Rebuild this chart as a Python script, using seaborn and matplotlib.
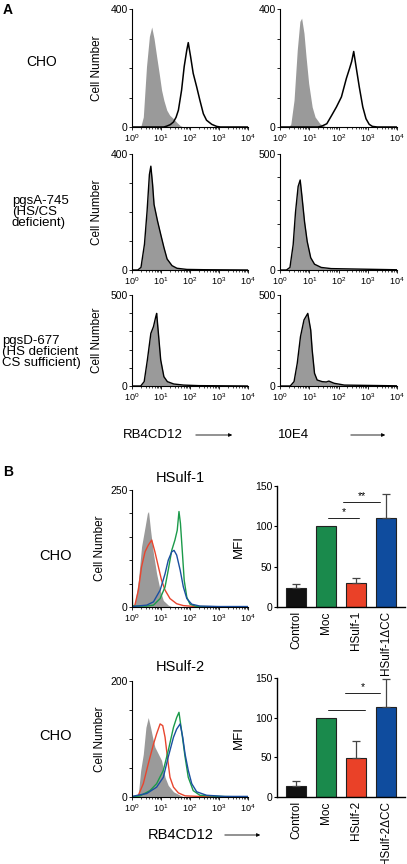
import numpy as np
import pandas as pd
import matplotlib
matplotlib.use("Agg")
import matplotlib.pyplot as plt
import seaborn as sns
from matplotlib.ticker import FixedLocator, FixedFormatter, LogLocator, NullFormatter

sns.set_style("ticks")
plt.rcParams['font.family'] = ['Liberation Sans', 'DejaVu Sans']
for k in ['text.color', 'axes.labelcolor', 'xtick.color', 'ytick.color', 'axes.edgecolor']:
    plt.rcParams[k] = 'black'

# Dados dos histogramas: log10 da fluorescencia e numero de celulas
# Painel A, CHO
cho_rb_ctrl_lx = [0.3, 0.39, 0.5, 0.6, 0.68, 0.76, 0.85, 0.94, 1.02, 1.1, 1.2, 1.3, 1.43, 1.55, 1.66, 1.77]
cho_rb_ctrl_n = [0, 34, 205, 307, 339, 300, 239, 180, 125, 90, 57, 40, 28, 15, 5, 0]
cho_rb_lx = [0, 1.1, 1.2, 1.32, 1.43, 1.52, 1.6, 1.71, 1.8, 1.89, 1.94, 1.98, 2.02, 2.11, 2.23, 2.34,
             2.46, 2.57, 2.75, 2.92, 3.05, 4]
cho_rb_n = [0, 0, 3, 8, 17, 33, 57, 125, 205, 261, 286, 262, 239, 182, 136, 91, 45, 23, 9, 2, 0, 0]

cho_e4_ctrl_lx = [0.3, 0.37, 0.48, 0.59, 0.68, 0.74, 0.82, 0.89, 0.98, 1.1, 1.2, 1.37, 1.54, 1.65]
cho_e4_ctrl_n = [0, 10, 91, 261, 358, 369, 318, 239, 148, 68, 34, 11, 2, 0]
cho_e4_lx = [0, 1.3, 1.43, 1.6, 1.77, 1.93, 2.1, 2.27, 2.38, 2.45, 2.52, 2.6, 2.71, 2.83, 2.94, 3.05,
             3.16, 3.33, 4]
cho_e4_n = [0, 0, 3, 11, 40, 68, 102, 165, 199, 222, 256, 205, 136, 68, 28, 9, 2, 0, 0]

# pgsA-745
pgsa_rb_lx = [0, 0.2, 0.31, 0.43, 0.52, 0.6, 0.65, 0.71, 0.76, 0.88, 0.99, 1.1, 1.21, 1.38, 1.55, 1.89, 2.5, 4]
pgsa_rb_n = [0, 0, 9, 89, 203, 329, 358, 295, 226, 169, 123, 78, 38, 15, 6, 2, 1, 0]
pgsa_e4_lx = [0, 0.22, 0.34, 0.45, 0.53, 0.62, 0.69, 0.75, 0.84, 0.93, 1.05, 1.18, 1.41, 1.75, 2.65, 4]
pgsa_e4_n = [0, 0, 11, 109, 249, 360, 388, 318, 207, 123, 53, 25, 11, 6, 4, 1]

# pgsD-677
pgsd_rb_lx = [0, 0.3, 0.42, 0.53, 0.65, 0.74, 0.82, 0.85, 0.9, 0.99, 1.1, 1.22, 1.44, 1.78, 2.3, 4]
pgsd_rb_n = [0, 0, 24, 143, 289, 326, 381, 399, 308, 143, 51, 24, 11, 5, 2, 0]
pgsd_e4_lx = [0, 0.35, 0.48, 0.59, 0.7, 0.82, 0.95, 1.05, 1.1, 1.18, 1.27, 1.44, 1.58, 1.67, 1.85, 2.2, 4]
pgsd_e4_n = [0, 0, 24, 125, 271, 363, 399, 308, 198, 70, 33, 24, 22, 27, 15, 5, 1]

# Painel B, HSulf-1
hs1_ctrl_lx = [0.0, 0.1, 0.22, 0.33, 0.45, 0.53, 0.57, 0.64, 0.74, 0.85, 0.97, 1.08, 1.25, 1.4]
hs1_ctrl_n = [0, 7, 57, 129, 171, 200, 204, 164, 114, 71, 36, 14, 4, 0]
hs1_red_lx = [0, 0.1, 0.22, 0.33, 0.45, 0.56, 0.68, 0.79, 0.91, 1.02, 1.14, 1.31, 1.54, 1.77, 2.2, 4]
hs1_red_n = [0, 4, 36, 86, 118, 132, 143, 118, 86, 57, 36, 18, 7, 3, 1, 0]
hs1_green_lx = [0, 0, 0.02, 0.5, 0.74, 0.97, 1.14, 1.25, 1.37, 1.48, 1.56, 1.62, 1.67, 1.74, 1.8, 1.89,
                2.0, 2.23, 4]
hs1_green_n = [0, 57, 2, 2, 4, 18, 43, 79, 121, 143, 164, 204, 179, 114, 57, 21, 6, 1, 0]
hs1_blue_lx = [0, 0.51, 0.74, 0.97, 1.14, 1.25, 1.37, 1.45, 1.54, 1.66, 1.77, 1.89, 2.06, 2.34, 3.0, 4]
hs1_blue_n = [1, 4, 11, 36, 71, 100, 118, 121, 111, 79, 43, 18, 6, 2, 1, 1]

# HSulf-2
hs2_ctrl_lx = [0.1, 0.22, 0.3, 0.39, 0.48, 0.56, 0.64, 0.71, 0.79, 0.91, 1.02, 1.14, 1.25, 1.43, 1.66, 1.8]
hs2_ctrl_n = [0, 6, 46, 74, 120, 137, 120, 103, 86, 74, 63, 34, 20, 9, 3, 0]
hs2_red_lx = [0, 0.22, 0.39, 0.56, 0.74, 0.85, 0.97, 1.06, 1.14, 1.22, 1.31, 1.43, 1.6, 1.83, 2.3, 4]
hs2_red_n = [0, 3, 23, 57, 91, 109, 126, 123, 103, 69, 34, 17, 7, 2, 1, 0]
hs2_green_lx = [0, 0.28, 0.62, 0.85, 1.08, 1.25, 1.43, 1.54, 1.62, 1.71, 1.83, 1.94, 2.11, 2.34, 3.0, 4]
hs2_green_n = [0, 2, 11, 23, 46, 80, 120, 137, 146, 114, 69, 34, 11, 3, 1, 0]
hs2_blue_lx = [0, 0.51, 0.85, 1.08, 1.25, 1.43, 1.54, 1.66, 1.75, 1.83, 1.94, 2.06, 2.23, 2.57, 3.2, 4]
hs2_blue_n = [1, 6, 17, 34, 69, 103, 117, 126, 103, 74, 46, 23, 9, 3, 1, 1]

# Barras (MFI)
bar_cats_1 = ['Control', 'Moc', 'HSulf-1', 'HSulf-1ΔCC']
mfi_1 = [23, 100, 30, 110]
mfi_1_top = [29, 100, 36, 140]
sig_1_span = [(1.07, 2.1), (1.57, 2.8)]
sig_1_y = [110, 130]
sig_1_txt = ['*', '**']

bar_cats_2 = ['Control', 'Moc', 'HSulf-2', 'HSulf-2ΔCC']
mfi_2 = [14, 100, 49, 113]
mfi_2_top = [20, 100, 71, 149]
sig_2_span = [(1.07, 2.3), (1.63, 2.8)]
sig_2_y = [110, 131]
sig_2_txt = ['', '*']

GRAY = '#9a9a9a'
GREEN = '#1b9a4a'
RED = '#e8452e'
BLUE = '#1a4fa0'
bar_colors = ['#111111', '#1a8a4c', '#ea4128', '#0f4c9e']

W, H = 407, 864
fig = plt.figure(figsize=(W / 100, H / 100), dpi=100)


def px_axes(x0, y0, x1, y1):
    return fig.add_axes([x0 / W, 1 - y1 / H, (x1 - x0) / W, (y1 - y0) / H])


def estilo_hist(ax, ymax, step, ylabel=True):
    ax.set_xscale('log')
    ax.set_xlim(1, 1e4)
    ax.set_ylim(0, ymax)
    ax.xaxis.set_major_locator(LogLocator(base=10, numticks=10))
    ax.xaxis.set_minor_locator(LogLocator(base=10, subs=np.arange(2, 10), numticks=50))
    ax.xaxis.set_minor_formatter(NullFormatter())
    ticks = list(range(0, ymax + 1, step))
    ax.yaxis.set_major_locator(FixedLocator(ticks))
    ax.yaxis.set_major_formatter(FixedFormatter(['0'] + [''] * (len(ticks) - 2) + [str(ymax)]))
    ax.tick_params(axis='x', which='major', labelsize=6.5, length=2.5, width=0.6, pad=1)
    ax.tick_params(axis='x', which='minor', length=1.3, width=0.5)
    ax.tick_params(axis='y', labelsize=7.5, length=2, width=0.6, pad=1)
    for s in ['top', 'right']:
        ax.spines[s].set_visible(False)
    for s in ['left', 'bottom']:
        ax.spines[s].set_linewidth(0.8)
    ax.set_xlabel('')
    if ylabel:
        ax.set_ylabel('Cell Number', fontsize=8.5)
        ax.yaxis.set_label_coords(-0.25, 0.5)
    else:
        ax.set_ylabel('')


def linha(ax, lx, n, color, lw=1.0):
    df = pd.DataFrame({'x': 10 ** np.array(lx, dtype=float), 'n': n})
    sns.lineplot(data=df, x='x', y='n', ax=ax, color=color, lw=lw,
                 estimator=None, sort=False, legend=False)


def preenche(ax, lx, n):
    ax.fill_between(10 ** np.array(lx, dtype=float), n, 0, color=GRAY, lw=0)


# --- Painel A ---
ax = px_axes(132, 9, 248, 127)
preenche(ax, cho_rb_ctrl_lx, cho_rb_ctrl_n)
linha(ax, cho_rb_lx, cho_rb_n, 'black', 1.1)
estilo_hist(ax, 400, 100)

ax = px_axes(280, 9, 397, 127)
preenche(ax, cho_e4_ctrl_lx, cho_e4_ctrl_n)
linha(ax, cho_e4_lx, cho_e4_n, 'black', 1.1)
estilo_hist(ax, 400, 100, ylabel=False)

ax = px_axes(132, 154, 248, 270)
preenche(ax, pgsa_rb_lx, pgsa_rb_n)
linha(ax, pgsa_rb_lx, pgsa_rb_n, 'black', 1.0)
estilo_hist(ax, 400, 100)

ax = px_axes(280, 154, 397, 270)
preenche(ax, pgsa_e4_lx, pgsa_e4_n)
linha(ax, pgsa_e4_lx, pgsa_e4_n, 'black', 1.0)
estilo_hist(ax, 500, 100, ylabel=False)

ax = px_axes(132, 295, 248, 386)
preenche(ax, pgsd_rb_lx, pgsd_rb_n)
linha(ax, pgsd_rb_lx, pgsd_rb_n, 'black', 1.0)
estilo_hist(ax, 500, 100)

ax = px_axes(280, 295, 397, 386)
preenche(ax, pgsd_e4_lx, pgsd_e4_n)
linha(ax, pgsd_e4_lx, pgsd_e4_n, 'black', 1.0)
estilo_hist(ax, 500, 100, ylabel=False)

# --- Painel B: histogramas ---
ax = px_axes(132, 490, 248, 607)
preenche(ax, hs1_ctrl_lx, hs1_ctrl_n)
linha(ax, hs1_red_lx, hs1_red_n, RED)
linha(ax, hs1_green_lx, hs1_green_n, GREEN)
linha(ax, hs1_blue_lx, hs1_blue_n, BLUE)
estilo_hist(ax, 250, 50)
ax.yaxis.set_label_coords(-0.22, 0.5)

ax = px_axes(132, 681, 248, 797)
preenche(ax, hs2_ctrl_lx, hs2_ctrl_n)
linha(ax, hs2_red_lx, hs2_red_n, RED)
linha(ax, hs2_green_lx, hs2_green_n, GREEN)
linha(ax, hs2_blue_lx, hs2_blue_n, BLUE)
estilo_hist(ax, 200, 50)
ax.yaxis.set_label_coords(-0.22, 0.5)


# --- Painel B: barras ---
def barras(ax, cats, vals, tops, spans, ys, txts):
    df = pd.DataFrame({'cat': cats, 'mfi': vals})
    sns.barplot(data=df, x='cat', y='mfi', hue='cat', palette=bar_colors, legend=False,
                saturation=1, edgecolor='#222222', linewidth=0.8, width=0.67, ax=ax)
    idx = [i for i in range(len(vals)) if tops[i] > vals[i]]
    ax.errorbar(idx, [vals[i] for i in idx],
                yerr=[[0] * len(idx), [tops[i] - vals[i] for i in idx]],
                fmt='none', ecolor='#444444', elinewidth=0.9, capsize=2.8, capthick=0.9)
    for (a, b), yv, t in zip(spans, ys, txts):
        ax.plot([a, b], [yv, yv], color='#222222', lw=0.7)
        if t:
            ax.text((a + b) / 2, yv + 1, t, ha='center', va='bottom', fontsize=7.5)
    ax.set_xlim(-0.64, 3.63)
    ax.set_ylim(0, 150)
    ax.set_yticks([0, 50, 100, 150])
    ax.set_xlabel('')
    ax.set_ylabel('MFI', fontsize=9.5)
    ax.yaxis.set_label_coords(-0.25, 0.5)
    ax.tick_params(axis='x', length=0, labelsize=8.5, rotation=90, pad=3)
    ax.tick_params(axis='y', length=2.5, width=0.8, labelsize=7.5, pad=1)
    for s in ['top', 'right']:
        ax.spines[s].set_visible(False)
    for s in ['left', 'bottom']:
        ax.spines[s].set_linewidth(1.0)


ax = px_axes(277, 486, 405, 607)
barras(ax, bar_cats_1, mfi_1, mfi_1_top, sig_1_span, sig_1_y, sig_1_txt)
ax = px_axes(277, 678, 405, 797)
barras(ax, bar_cats_2, mfi_2, mfi_2_top, sig_2_span, sig_2_y, sig_2_txt)


# --- Textos ---
def ftxt(x, y, s, **kw):
    fig.text(x / W, 1 - y / H, s, **kw)


def seta(x0, x1, y):
    fig.add_artist(matplotlib.patches.FancyArrowPatch(
        (x0 / W, 1 - y / H), (x1 / W, 1 - y / H), transform=fig.transFigure,
        arrowstyle='-|>', mutation_scale=5, lw=0.6, color='black'))


ftxt(3, 10, 'A', fontsize=10, weight='bold', va='center')
ftxt(3, 472, 'B', fontsize=10, weight='bold', va='center')
ftxt(42, 62, 'CHO', fontsize=10, ha='center', va='center')
ftxt(12, 212, 'pgsA-745\n(HS/CS\ndeficient)', fontsize=9.5, va='center', linespacing=0.85)
ftxt(2, 352, 'pgsD-677\n(HS deficient\nCS sufficient)', fontsize=9.5, va='center', linespacing=0.85)
ftxt(55, 556, 'CHO', fontsize=10.5, ha='center', va='center')
ftxt(55, 736, 'CHO', fontsize=10.5, ha='center', va='center')

ftxt(123, 435, 'RB4CD12', fontsize=9.5, va='center')
seta(193, 235, 435)
ftxt(278, 435, '10E4', fontsize=9.5, va='center')
seta(348, 388, 435)
ftxt(148, 835, 'RB4CD12', fontsize=10.5, va='center')
seta(222, 263, 835)

ftxt(180, 478, 'HSulf-1', fontsize=10.5, ha='center', va='center')
ftxt(180, 667, 'HSulf-2', fontsize=10.5, ha='center', va='center')

fig.savefig('out.png', dpi=100)
